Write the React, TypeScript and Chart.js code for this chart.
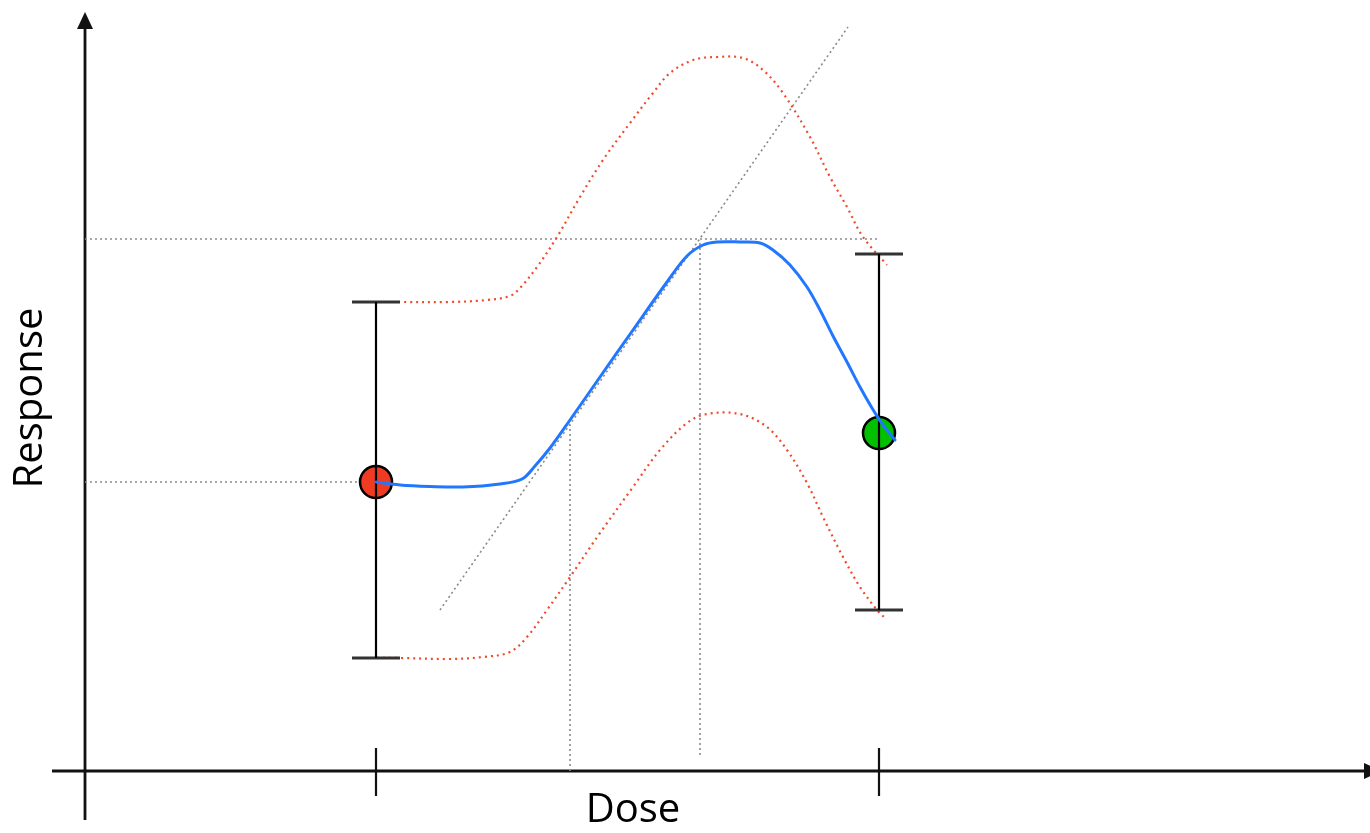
import React, { useEffect, useRef } from "react";
import { Chart, registerables } from "chart.js";

Chart.register(...registerables);

// ---- Data (arbitrary units: Dose on x, Response on y) ----
const doseLevels = [29.1, 79.4];
const meanResponse = [28.9, 33.8];
const upperLimit = [46.9, 51.7];
const lowerLimit = [11.3, 16.1];
const pointColors = ["#EE3B22", "#00C000"];

const fitX = [29.1, 31.5, 34.5, 37.8, 41.5, 43.7, 45.0, 46.5, 48.5, 51.5, 54.8, 58.2, 60.2, 61.8, 63.2, 65.5, 67.5, 68.8, 70.5, 72.2, 73.5, 74.8, 76.2, 77.5, 78.7, 79.8, 81.0];
const fitY = [28.9, 28.6, 28.45, 28.4, 28.7, 29.2, 30.5, 32.3, 35.1, 39.4, 44.1, 48.9, 51.5, 52.6, 52.9, 52.9, 52.8, 52.1, 50.6, 48.4, 46.1, 43.5, 40.9, 38.4, 36.3, 34.6, 33.1];

const upperX = [27.7, 31.5, 36.5, 40.2, 42.5, 43.5, 45.2, 47.2, 49.5, 51.8, 54.5, 56.8, 58.5, 60.8, 63.2, 65.8, 67.8, 69.8, 72.5, 74.5, 76.2, 77.8, 80.2];
const upperY = [46.9, 46.9, 46.9, 47.1, 47.5, 48.3, 50.4, 53.4, 57.4, 61.1, 64.8, 67.8, 69.8, 71.1, 71.4, 71.3, 70.1, 67.8, 63.4, 59.4, 56.4, 53.4, 50.6];

const lowerX = [28.0, 31.5, 36.5, 39.8, 42.5, 44.2, 46.2, 48.5, 51.5, 54.8, 57.5, 60.2, 62.2, 65.5, 68.2, 70.2, 72.2, 73.8, 75.8, 77.5, 79.2, 80.0];
const lowerY = [11.3, 11.3, 11.2, 11.4, 11.9, 13.4, 16.1, 19.4, 23.8, 28.4, 32.1, 34.8, 35.7, 35.7, 34.4, 32.1, 28.8, 25.4, 21.4, 18.4, 16.1, 15.3];

const slopeLineX = [35.5, 76.3];
const slopeLineY = [16.1, 74.4];

const maxResponse = 53.2;
const maxResponseEndX = 79.2;
const ed50Dose = 48.5;
const ed50Top = 34.6;
const edMaxDose = 61.5;
const edMaxTop = 53.1;
const edMaxBottom = 1.6;

const xRange = [-8.5, 128.5];
const yRange = [-6.2, 77.1];
const yAxisEnds = [-4.9, 75.9];
const xAxisStart = -3.3;
const tickEnds = [-2.5, 2.3];
const capHalf = 2.4;

const xLabel = "Dose";
const yLabel = "Response";

const zip = (xs: number[], ys: number[]) => xs.map((x, i) => ({ x, y: ys[i] }));

export default function App() {
  const ref = useRef<HTMLCanvasElement | null>(null);

  useEffect(() => {
    const canvas = ref.current;
    if (!canvas) return;
    document.body.style.margin = "0";

    const seg = (pts: { x: number; y: number }[], color: string, width: number, order: number, dash: number[] = []) => ({
      type: "line" as const,
      data: pts,
      borderColor: color,
      borderWidth: width,
      borderDash: dash,
      pointRadius: 0,
      showLine: true,
      fill: false,
      tension: 0,
      order,
      clip: false as any,
    });

    const datasets: any[] = [];
    // fitted curve (top)
    datasets.push({ ...seg(zip(fitX, fitY), "#2277FF", 3, 1), tension: 0.35, borderCapStyle: "round", borderJoinStyle: "round" });
    // error bars
    doseLevels.forEach((d, i) => {
      datasets.push(seg([{ x: d, y: lowerLimit[i] }, { x: d, y: upperLimit[i] }], "#000000", 2.2, 2));
      datasets.push(seg([{ x: d - capHalf, y: upperLimit[i] }, { x: d + capHalf, y: upperLimit[i] }], "#333333", 3, 2));
      datasets.push(seg([{ x: d - capHalf, y: lowerLimit[i] }, { x: d + capHalf, y: lowerLimit[i] }], "#333333", 3, 2));
      // axis ticks
      datasets.push(seg([{ x: d, y: tickEnds[0] }, { x: d, y: tickEnds[1] }], "#111111", 2.2, 6));
    });
    // confidence bands
    datasets.push({ ...seg(zip(upperX, upperY), "#F04A2A", 2.2, 3, [2, 4]), tension: 0.35 });
    datasets.push({ ...seg(zip(lowerX, lowerY), "#F04A2A", 2.2, 3, [2, 4]), tension: 0.35 });
    // observed points
    datasets.push({
      type: "scatter",
      data: doseLevels.map((d, i) => ({ x: d, y: meanResponse[i] })),
      backgroundColor: pointColors,
      borderColor: "#000000",
      borderWidth: 2.5,
      pointRadius: 16,
      showLine: false,
      order: 4,
      clip: false,
    });
    // reference lines
    const grey = "#8a8a8a";
    datasets.push(seg(zip(slopeLineX, slopeLineY), grey, 1.6, 5, [2, 3]));
    datasets.push(seg([{ x: 0, y: maxResponse }, { x: maxResponseEndX, y: maxResponse }], grey, 1.6, 5, [2, 3]));
    datasets.push(seg([{ x: 0, y: meanResponse[0] }, { x: doseLevels[0], y: meanResponse[0] }], grey, 1.6, 5, [2, 3]));
    datasets.push(seg([{ x: ed50Dose, y: 0 }, { x: ed50Dose, y: ed50Top }], grey, 1.6, 5, [2, 3]));
    datasets.push(seg([{ x: edMaxDose, y: edMaxBottom }, { x: edMaxDose, y: edMaxTop }], grey, 1.6, 5, [2, 3]));
    // axes
    datasets.push(seg([{ x: 0, y: yAxisEnds[0] }, { x: 0, y: yAxisEnds[1] - 1.5 }], "#111111", 2.8, 6));
    datasets.push(seg([{ x: xAxisStart, y: 0 }, { x: xRange[1], y: 0 }], "#111111", 2.8, 6));

    const decor = {
      id: "decor",
      afterDatasetsDraw(chart: any) {
        const ctx = chart.ctx as CanvasRenderingContext2D;
        const xs = chart.scales.x;
        const ys = chart.scales.y;
        ctx.save();
        ctx.fillStyle = "#111111";
        // y arrow
        const ax = xs.getPixelForValue(0);
        const tip = ys.getPixelForValue(yAxisEnds[1]);
        ctx.beginPath();
        ctx.moveTo(ax, tip);
        ctx.lineTo(ax - 8, tip + 17);
        ctx.lineTo(ax + 8, tip + 17);
        ctx.closePath();
        ctx.fill();
        // x arrow
        const ay = ys.getPixelForValue(0);
        const right = xs.getPixelForValue(xRange[1]);
        ctx.beginPath();
        ctx.moveTo(right + 11, ay);
        ctx.lineTo(right - 6, ay - 8);
        ctx.lineTo(right - 6, ay + 8);
        ctx.closePath();
        ctx.fill();
        // labels
        ctx.fillStyle = "#000000";
        ctx.font = "40px 'Open Sans', 'Noto Sans', sans-serif";
        ctx.textAlign = "center";
        ctx.textBaseline = "middle";
        ctx.fillText(xLabel, xs.getPixelForValue(54.8), ys.getPixelForValue(-4.0));
        ctx.translate(xs.getPixelForValue(-5.4), ys.getPixelForValue(37.3));
        ctx.rotate(-Math.PI / 2);
        ctx.fillText(yLabel, 0, 0);
        ctx.restore();
      },
    };

    const chart = new Chart(canvas, {
      type: "scatter",
      data: { datasets },
      options: {
        animation: false,
        responsive: false,
        devicePixelRatio: 1,
        layout: { padding: 0, autoPadding: false },
        plugins: { legend: { display: false }, tooltip: { enabled: false } },
        events: [],
        scales: {
          x: { type: "linear", min: xRange[0], max: xRange[1], display: false },
          y: { type: "linear", min: yRange[0], max: yRange[1], display: false },
        },
      },
      plugins: [decor],
    });
    return () => chart.destroy();
  }, []);

  return (
    <div style={{ position: "fixed", left: 0, top: 0, width: 1370, height: 833, background: "#fff" }}>
      <canvas ref={ref} width={1370} height={833} style={{ width: 1370, height: 833, display: "block" }} />
    </div>
  );
}
